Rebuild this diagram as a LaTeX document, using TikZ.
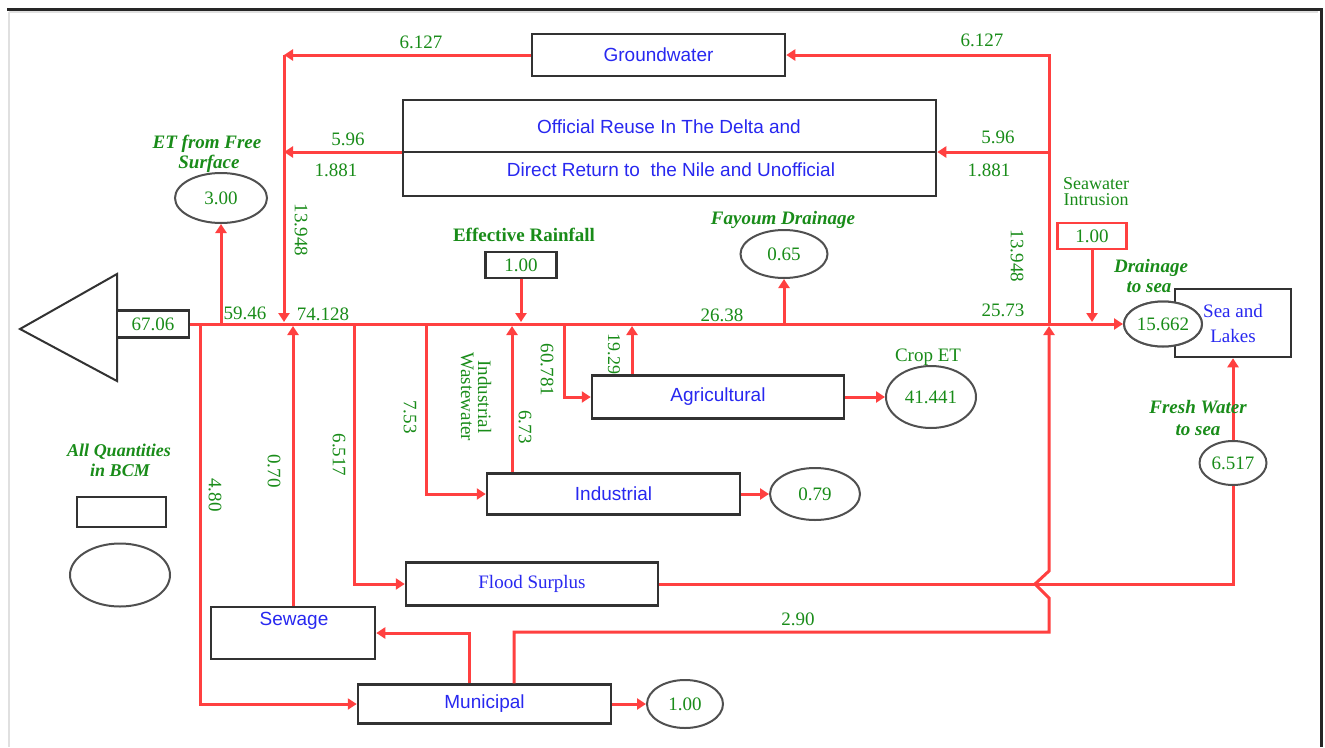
\documentclass[tikz,border=0pt]{standalone}
\usepackage{fontspec}
\setmainfont{Liberation Serif}
\setsansfont{Liberation Sans}
\usetikzlibrary{arrows.meta,shapes.geometric}
\definecolor{flowred}{RGB}{255,64,64}
\definecolor{numgreen}{RGB}{25,140,25}
\definecolor{labblue}{RGB}{40,40,240}
\definecolor{boxline}{RGB}{50,50,50}
\definecolor{ellline}{RGB}{80,80,80}
\begin{document}
\begin{tikzpicture}[x=1pt,y=-1pt,
  flow/.style={draw=flowred,line width=3pt},
  arr/.style={flow,-{Triangle[length=9pt,width=11pt]}},
  blk/.style 2 args={draw=boxline,line width=2.5pt,fill=white,minimum width=#1,minimum height=#2,inner sep=0pt},
  oval/.style 2 args={ellipse,draw=ellline,line width=2pt,fill=white,minimum width=#1,minimum height=#2,inner sep=0pt},
  num/.style={text=numgreen,font=\fontsize{19}{21}\selectfont,inner sep=0pt},
  vnum/.style={num,rotate=-90},
  lab/.style={text=numgreen,font=\fontsize{19}{20}\selectfont\bfseries\itshape,inner sep=0pt},
  plab/.style={text=numgreen,font=\fontsize{19}{21}\selectfont,inner sep=0pt},
  bsans/.style={text=labblue,font=\sffamily\fontsize{19}{21}\selectfont,inner sep=0pt},
  bserif/.style={text=labblue,font=\fontsize{19}{25}\selectfont,inner sep=0pt,align=center},
]
\useasboundingbox[fill=white] (0,0) rectangle (1325,747);
% frame
\draw[black!12,line width=2pt] (9,12) -- (1318,12);
\draw[black!12,line width=2pt] (9,12) -- (9,747);
\draw[black!85,line width=3pt] (7,9) -- (1321,9) -- (1321,747);

% outlet
\draw[boxline,line width=2pt] (20,329) -- (117,274) -- (117,381) -- cycle;
\node[blk={72}{27},num] (out) at (153,324) {67.06};

% boxes
\node[blk={253}{42},bsans] (gw) at (658.5,55) {Groundwater};
\node[blk={533}{96}] (reuse) at (669.5,148) {};
\draw[boxline,line width=2.5pt] ([yshift=-4pt]reuse.west) -- ([yshift=-4pt]reuse.east);
\node[bsans] (reuse1) at (669,127) {Official Reuse In The Delta and};
\node[bsans] (reuse2) at (671,170) {Direct Return to\ \ the Nile and Unofficial};
\node[blk={71}{26},num] (rain) at (521,265) {1.00};
\node[blk={69}{26},num,draw=flowred] (sw) at (1092,236) {1.00};
\node[blk={252}{43},bsans] (agri) at (718,397) {Agricultural};
\node[blk={253}{41},bsans] (ind) at (613.5,494) {Industrial};
\node[blk={252}{43},bserif] (flood) at (532,584) {Flood Surplus};
\node[blk={164}{52}] (sewage) at (293,633) {};
\node[bsans] (sewlab) at (294,621) {Sewage};
\node[blk={253}{39},bsans] (muni) at (484.5,704) {Municipal};
\node[blk={116}{68},bserif] (sea) at (1233,323) {Sea and\\Lakes};
\node[blk={89}{30}] (leg) at (121.5,512) {};

% ellipses
\node[oval={92}{50},num] (etE) at (221,198) {3.00};
\node[oval={87}{48},num] (fay) at (784,254) {0.65};
\node[oval={90}{62},num] (crop) at (931,397) {41.441};
\node[oval={90}{52},num] (indE) at (815,494) {0.79};
\node[oval={76}{48},num] (muniE) at (685,704) {1.00};
\node[oval={78}{45},num] (seaE) at (1163,324) {15.662};
\node[oval={67}{44},num] (freshE) at (1233,463) {6.517};
\node[oval={100}{63}] (legE) at (120,575) {};

% junction coordinates
\coordinate (jET) at (221,324);
\coordinate (j480) at (200,324);
\coordinate (gwL) at (284,55);
\coordinate (reL) at (284,152);
\coordinate (jGW) at (284,322);
\coordinate (jSew) at (293,326);
\coordinate (j6517) at (354,324);
\coordinate (j753) at (426,324);
\coordinate (jIW) at (512,326);
\coordinate (jRain) at (521,322);
\coordinate (j60) at (564,324);
\coordinate (j19) at (632,326);
\coordinate (jFay) at (784,324);
\coordinate (jDR) at (1049,326);
\coordinate (jDRtop) at (1049,324);
\coordinate (reR) at (1049,152);
\coordinate (jSW) at (1092,322);
\coordinate (hopB) at (1049,598);
\coordinate (hopM) at (1035,584);
\coordinate (hopT) at (1049,571);
\coordinate (m290) at (1049,632);
\coordinate (m290L) at (514,632);
\coordinate (mS) at (469,632);

% main river
\draw[arr] (out.east) -- (seaE.west);

% connectors
\draw[arr] (gw.west) -- (gwL);
\draw[arr] ([yshift=-4pt]reuse.west) -- (reL);
\draw[arr] (gwL) -- (jGW);
\draw[arr] (jET) -- (etE.south);
\draw[arr] (j480) |- (muni.west);
\draw[arr] (sewage.north) -- (jSew);
\draw[arr] (j6517) |- (flood.west);
\draw[arr] (j753) |- (ind.west);
\draw[arr] (ind.north -| jIW) -- (jIW);
\draw[arr] (rain.south) -- (jRain);
\draw[arr] (j60) |- (agri.west);
\draw[arr] (agri.north -| j19) -- (j19);
\draw[arr] (jFay) -- (fay.south);
\draw[arr] (agri.east) -- (crop.west);
\draw[arr] (ind.east) -- (indE.west);
\draw[arr] (muni.east) -- (muniE.west);
\draw[arr] (sw.south) -- (jSW);
\draw[flow] (flood.east) -| (freshE.south);
\draw[arr] (muni.north -| m290L) -- (m290L) -- (m290) -- (hopB) -- (hopM) -- (hopT) -- (jDR);
\draw[arr] (jDRtop) |- (gw.east);
\draw[arr] (reR) -- ([yshift=-4pt]reuse.east);
\draw[arr] (muni.north -| mS) |- (sewage.east);
\draw[arr] (freshE.north) -- (sea.south);
\node[oval={78}{45},num] at (seaE) {15.662};

% flow numbers
\node[num] (n1) at (421,42) {6.127};
\node[num] (n2) at (982,40) {6.127};
\node[num] (n3) at (348,139) {5.96};
\node[num] (n4) at (998,137) {5.96};
\node[num] (n5) at (336,170) {1.881};
\node[num] (n6) at (989,170) {1.881};
\node[vnum] (n7) at (301,230) {13.948};
\node[vnum] (n8) at (1017,256) {13.948};
\node[num] (n9) at (245,313) {59.46};
\node[num] (n10) at (323,314) {74.128};
\node[num] (n11) at (722,315) {26.38};
\node[num] (n12) at (1003,310) {25.73};
\node[vnum] (n13) at (215,495) {4.80};
\node[vnum] (n14) at (274,471) {0.70};
\node[vnum] (n15) at (339,455) {6.517};
\node[vnum] (n16) at (410,417) {7.53};
\node[vnum,align=center,font=\fontsize{19}{17}\selectfont] (n17) at (476,397) {Industrial\\Wastewater};
\node[vnum] (n18) at (525,427) {6.73};
\node[vnum] (n19) at (547,370) {60.781};
\node[vnum,font=\fontsize{18}{20}\selectfont] (n20) at (614,354) {19.29};
\node[num] (n21) at (798,619) {2.90};

% labels
\node[lab] (l1) at (207,144) {ET from Free};
\node[lab] (l2) at (209,164) {Surface};
\node[lab,font=\fontsize{19}{21}\selectfont\bfseries] (l3) at (524,235) {Effective Rainfall};
\node[lab] (l4) at (783,220) {Fayoum Drainage};
\node[plab,align=center,font=\fontsize{18}{16}\selectfont] (l5) at (1096,192) {Seawater\\Intrusion};
\node[lab] (l7) at (1151,268) {Drainage};
\node[lab] (l8) at (1149,287) {to sea};
\node[plab] (l9) at (928,357) {Crop ET};
\node[lab] (l10) at (1198,407) {Fresh Water};
\node[lab] (l11) at (1198,430) {to sea};
\node[lab,font=\fontsize{18}{20}\selectfont\bfseries\itshape] (l12) at (119,452) {All Quantities};
\node[lab,font=\fontsize{18}{20}\selectfont\bfseries\itshape] (l13) at (120,470) {in BCM};
\end{tikzpicture}
\end{document}
